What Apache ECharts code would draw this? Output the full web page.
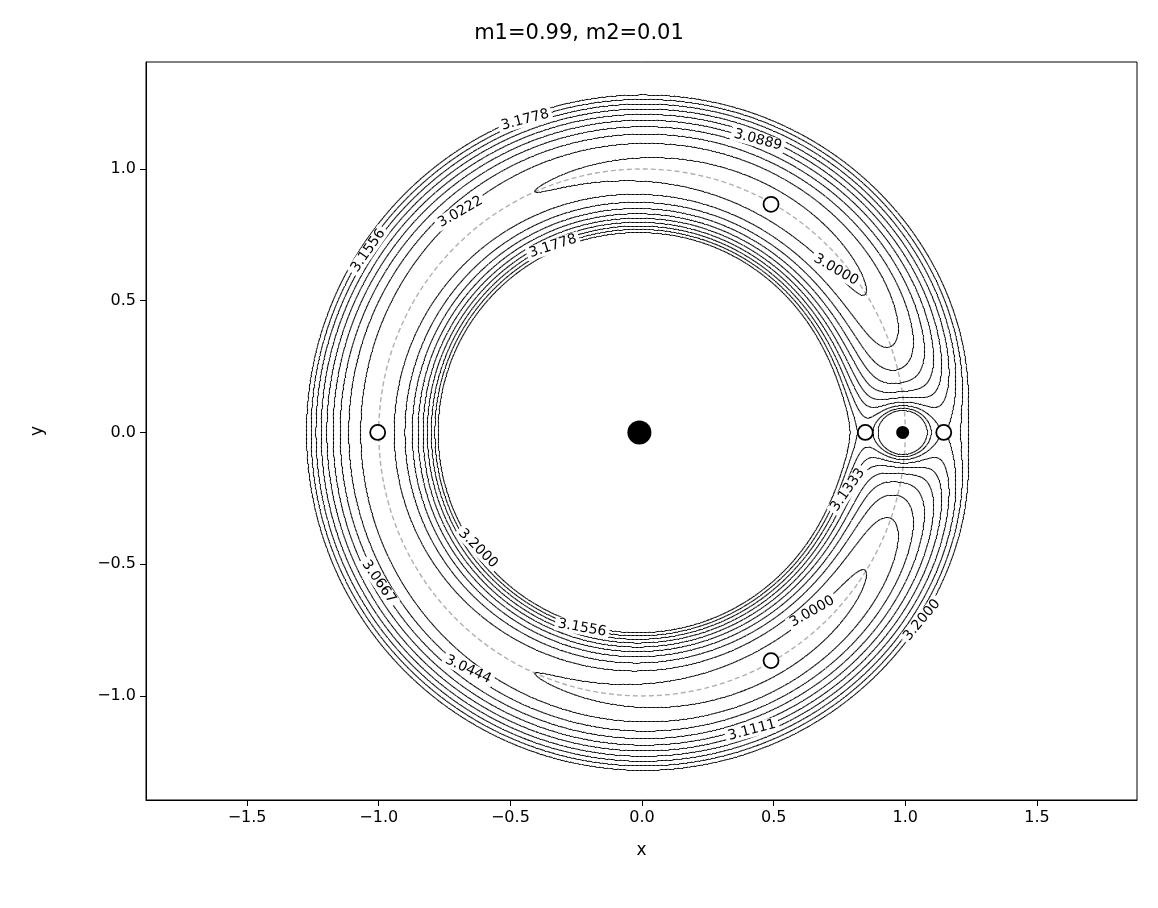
<!DOCTYPE html>
<html>
<head>
<meta charset="utf-8">
<script src="https://cdn.jsdelivr.net/npm/echarts@6/dist/echarts.min.js"></script>
<style>html,body{margin:0;padding:0;background:#fff}#chart{width:1158px;height:908px}</style>
</head>
<body>
<div id="chart"></div>
<script>
// masses and contour levels
var m1 = 0.99, m2 = 0.01;
var levels = [3.0000, 3.0222, 3.0444, 3.0667, 3.0889, 3.1111, 3.1333, 3.1556, 3.1778, 3.2000];
var bodies = [[-0.01, 0], [0.99, 0]];
var lagrange = [[0.848, 0], [1.146, 0], [-1.004, 0], [0.49, 0.866], [0.49, -0.866]];
var ticksX = [-1.5, -1.0, -0.5, 0.0, 0.5, 1.0, 1.5];
var ticksY = [-1.0, -0.5, 0.0, 0.5, 1.0];
// inline contour labels: [x, y, text, rotation]
var contourLabels = [
	[-0.444, 1.186, '3.1778', 15],
	[0.44, 1.11, '3.0889', -15],
	[-0.69, 0.837, '3.0222', 30],
	[-1.04, 0.69, '3.1556', 55],
	[-0.338, 0.707, '3.1778', 18],
	[0.737, 0.617, '3.0000', -30],
	[0.782, -0.218, '3.1333', 55],
	[-0.623, -0.44, '3.2000', -45],
	[-1.0, -0.567, '3.0667', -55],
	[-0.228, -0.742, '3.1556', -10],
	[0.646, -0.68, '3.0000', 30],
	[1.063, -0.712, '3.2000', 50],
	[-0.66, -0.9, '3.0444', -25],
	[0.418, -1.13, '3.1111', 15]
];

var xMin = -1.884, xMax = 1.88, yMin = -1.395, yMax = 1.406;

function jacobi(x, y) {
	var r1 = Math.sqrt((x + m2) * (x + m2) + y * y);
	var r2 = Math.sqrt((x - m1) * (x - m1) + y * y);
	return x * x + y * y + 2 * m1 / r1 + 2 * m2 / r2;
}

// marching squares
var h = 0.005;
var nx = Math.ceil((xMax - xMin) / h) + 1, ny = Math.ceil((yMax - yMin) / h) + 1;
var field = [];
for (var j = 0; j < ny; j++) {
	var row = new Float64Array(nx);
	for (var i = 0; i < nx; i++) row[i] = jacobi(xMin + i * h, yMin + j * h);
	field.push(row);
}
var segs = [];
function interp(xa, ya, va, xb, yb, vb, L) {
	var t = (L - va) / (vb - va);
	return [xa + t * (xb - xa), ya + t * (yb - ya)];
}
for (var j = 0; j < ny - 1; j++) {
	for (var i = 0; i < nx - 1; i++) {
		var x0 = xMin + i * h, y0 = yMin + j * h, x1 = x0 + h, y1 = y0 + h;
		var a = field[j][i], b = field[j][i + 1], c = field[j + 1][i + 1], d = field[j + 1][i];
		if (a > 6 || b > 6 || c > 6 || d > 6) continue;
		for (var k = 0; k < levels.length; k++) {
			var L = levels[k], p = [];
			if ((a < L) != (b < L)) p.push(interp(x0, y0, a, x1, y0, b, L));
			if ((b < L) != (c < L)) p.push(interp(x1, y0, b, x1, y1, c, L));
			if ((c < L) != (d < L)) p.push(interp(x1, y1, c, x0, y1, d, L));
			if ((d < L) != (a < L)) p.push(interp(x0, y1, d, x0, y0, a, L));
			if (p.length == 2) segs.push({coords: [p[0], p[1]]});
			else if (p.length == 4) {
				segs.push({coords: [p[0], p[1]]});
				segs.push({coords: [p[2], p[3]]});
			}
		}
	}
}

var circle = [];
for (var t = 0; t <= 360; t += 2) circle.push([Math.cos(t * Math.PI / 180), Math.sin(t * Math.PI / 180)]);

function fmt(v) { return (v < 0 ? '\u2212' : '') + Math.abs(v).toFixed(1); }

var font = 'DejaVu Sans';
var chart = echarts.init(document.getElementById('chart'));
chart.setOption({
	animation: false,
	title: {text: 'm1=0.99, m2=0.01', left: 'center', top: 18,
		textStyle: {fontFamily: font, fontSize: 21, fontWeight: 'normal', color: '#000'}},
	grid: {left: 146, right: 21, top: 62, bottom: 108, show: true, borderColor: '#000', borderWidth: 1, backgroundColor: 'transparent'},
	xAxis: {
		type: 'value', min: xMin, max: xMax, name: 'x', nameLocation: 'middle', nameGap: 42,
		nameTextStyle: {fontFamily: font, fontSize: 17, color: '#000'},
		splitLine: {show: false},
		axisLine: {onZero: false, lineStyle: {color: '#000', width: 1}},
		axisTick: {customValues: ticksX, length: 6, lineStyle: {color: '#000'}},
		axisLabel: {customValues: ticksX, formatter: fmt, fontFamily: font, fontSize: 16, color: '#000', margin: 10}
	},
	yAxis: {
		type: 'value', min: yMin, max: yMax, name: 'y', nameLocation: 'middle', nameGap: 100,
		nameTextStyle: {fontFamily: font, fontSize: 17, color: '#000'},
		splitLine: {show: false},
		axisLine: {onZero: false, lineStyle: {color: '#000', width: 1}},
		axisTick: {customValues: ticksY, length: 6, lineStyle: {color: '#000'}},
		axisLabel: {customValues: ticksY, formatter: fmt, fontFamily: font, fontSize: 16, color: '#000', margin: 10}
	},
	series: [
		{
			type: 'line', data: circle, showSymbol: false, silent: true, z: 1,
			lineStyle: {color: '#b0b0b0', width: 1.4, type: [5, 3]}
		},
		{
			type: 'lines', coordinateSystem: 'cartesian2d', data: segs, silent: true, z: 2,
			progressive: 0, large: false,
			lineStyle: {color: '#000', width: 1.1, opacity: 1}
		},
		{
			type: 'scatter', z: 5, silent: true, symbolSize: 1,
			itemStyle: {color: 'rgba(0,0,0,0)'},
			data: contourLabels.map(function (d) {
				return {value: [d[0], d[1]], label: {show: true, position: 'inside', formatter: d[2], rotate: d[3],
					fontFamily: font, fontSize: 14, color: '#000', opacity: 1, backgroundColor: '#fff', padding: [0, 3]}};
			})
		},
		{
			type: 'scatter', z: 6, silent: true,
			data: [{value: bodies[0], symbolSize: 24}, {value: bodies[1], symbolSize: 13}],
			itemStyle: {color: '#000', opacity: 1}
		},
		{
			type: 'scatter', z: 6, silent: true, data: lagrange, symbolSize: 15,
			itemStyle: {color: '#fff', borderColor: '#000', borderWidth: 1.8, opacity: 1}
		}
	]
});
</script>
</body>
</html>
